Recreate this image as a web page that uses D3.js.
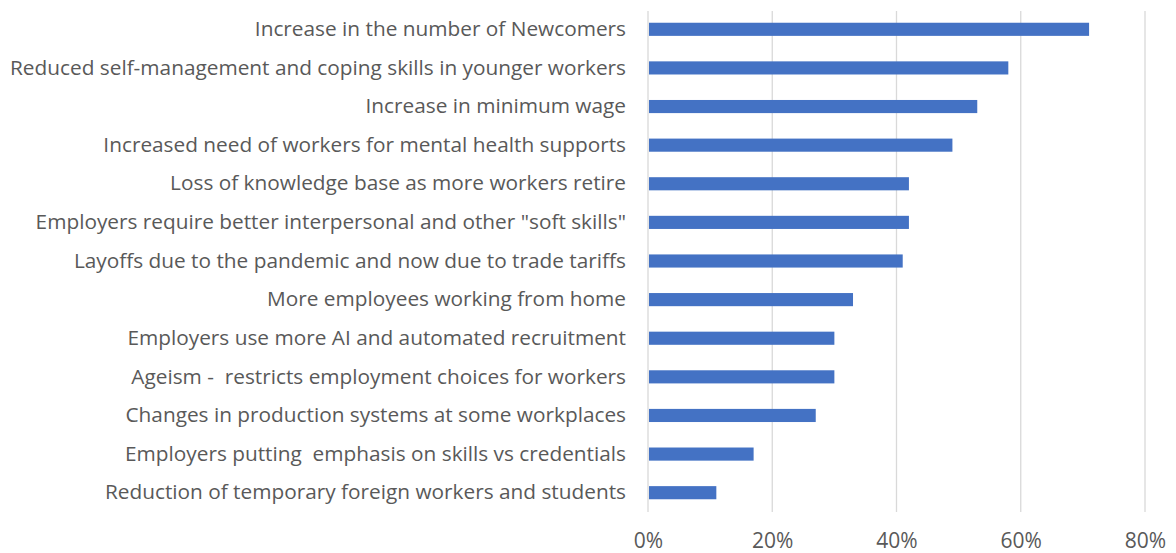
<!DOCTYPE html>
<html>
<head>
<meta charset="utf-8">
<script src="https://cdn.jsdelivr.net/npm/d3@7"></script>
<style>
  html, body { margin: 0; padding: 0; background: #fff; }
  svg { display: block; }
  text { font-family: "Open Sans", "Noto Sans", sans-serif; fill: #595959; white-space: pre; }
</style>
</head>
<body>
<svg id="chart" width="1176" height="553"></svg>
<script>
// Challenges reported, share of respondents
const categories = [
  "Increase in the number of Newcomers",
  "Reduced self-management and coping skills in younger workers",
  "Increase in minimum wage",
  "Increased need of workers for mental health supports",
  "Loss of knowledge base as more workers retire",
  "Employers require better interpersonal and other \"soft skills\"",
  "Layoffs due to the pandemic and now due to trade tariffs",
  "More employees working from home",
  "Employers use more AI and automated recruitment",
  "Ageism -  restricts employment choices for workers",
  "Changes in production systems at some workplaces",
  "Employers putting  emphasis on skills vs credentials",
  "Reduction of temporary foreign workers and students"
];
const values = [0.71, 0.58, 0.53, 0.49, 0.42, 0.42, 0.41, 0.33, 0.30, 0.30, 0.27, 0.17, 0.11];
const tickValues = [0, 0.2, 0.4, 0.6, 0.8];

const svg = d3.select("#chart");
const margin = { left: 648, right: 31, top: 10, bottom: 41 };
const width = 1176, height = 553;

const x = d3.scaleLinear().domain([0, 0.8]).range([margin.left, width - margin.right]);
const y = d3.scaleBand().domain(categories)
  .range([margin.top, height - margin.bottom])
  .paddingInner(0.66).paddingOuter(0.33);

// vertical gridlines
svg.append("g")
  .selectAll("line")
  .data(tickValues)
  .join("line")
  .attr("x1", d => x(d)).attr("x2", d => x(d))
  .attr("y1", margin.top + 1).attr("y2", height - margin.bottom)
  .attr("stroke", "#d9d9d9").attr("stroke-width", 1.3);

// bars
svg.append("g")
  .selectAll("rect")
  .data(values)
  .join("rect")
  .attr("x", x(0) + 1)
  .attr("y", (d, i) => y(categories[i]))
  .attr("width", d => x(d) - x(0) - 1)
  .attr("height", y.bandwidth())
  .attr("fill", "#4472c4");

// x axis labels
const xAxis = d3.axisBottom(x).tickValues(tickValues).tickFormat(d3.format(".0%")).tickSize(0).tickPadding(0);
const gx = svg.append("g").attr("transform", `translate(0,${height - margin.bottom})`).call(xAxis);
gx.select(".domain").remove();
gx.selectAll("text")
  .attr("dy", null)
  .attr("y", 36)
  .attr("font-size", 21)
  .style("font-family", "\"Open Sans\", sans-serif")
  .style("fill", "#595959");

// category labels
const yAxis = d3.axisLeft(y).tickSize(0).tickPadding(22);
const gy = svg.append("g").attr("transform", `translate(${x(0)},0)`).call(yAxis);
gy.select(".domain").remove();
gy.selectAll("text")
  .attr("font-size", 20.8)
  .style("font-family", "\"Open Sans\", sans-serif")
  .style("fill", "#595959")
  .style("white-space", "pre");
</script>
</body>
</html>
